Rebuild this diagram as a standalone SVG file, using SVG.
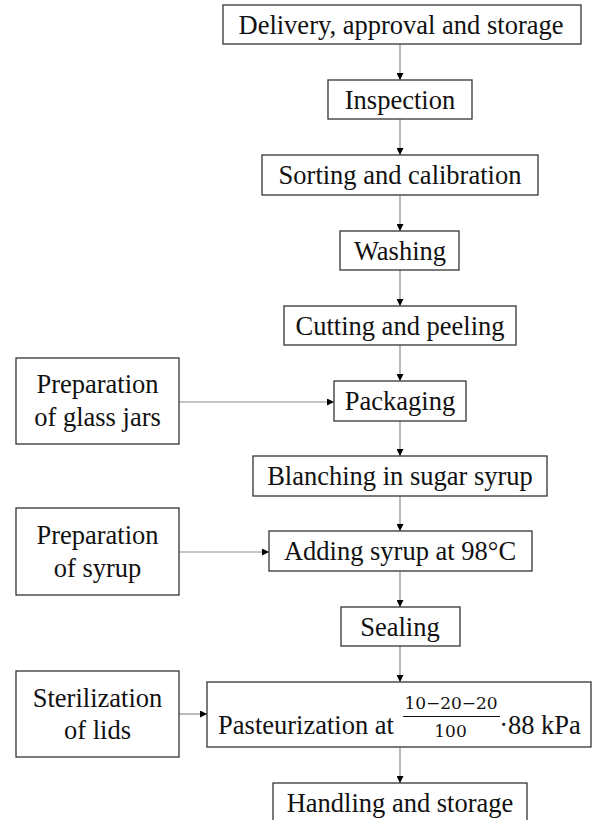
<svg xmlns="http://www.w3.org/2000/svg" width="592" height="820" viewBox="0 0 592 820">
<style>
.box{fill:#fff;stroke:#333;stroke-width:1.3}
.t{font-family:"Liberation Serif","Times New Roman",serif;font-size:26.5px;fill:#111;text-anchor:middle}
.m{font-family:"DejaVu Serif","Liberation Serif",serif;font-size:17px;fill:#111;text-anchor:middle}
.c{stroke:#8c8c8c;stroke-width:1.2;fill:none;marker-end:url(#ah)}
</style>
<defs>
<marker id="ah" markerUnits="userSpaceOnUse" markerWidth="7" markerHeight="7" refX="7" refY="3.5" orient="auto">
<path d="M0,0 L7,3.5 L0,7 z" fill="#000"/>
</marker>
</defs>
<rect width="592" height="820" fill="#fff"/>
<g id="connectors">
<line class="c" x1="400" y1="44" x2="400" y2="80"/>
<line class="c" x1="400" y1="119" x2="400" y2="155"/>
<line class="c" x1="400" y1="195" x2="400" y2="231"/>
<line class="c" x1="400" y1="270" x2="400" y2="306"/>
<line class="c" x1="400" y1="345" x2="400" y2="381"/>
<line class="c" x1="400" y1="421" x2="400" y2="456"/>
<line class="c" x1="400" y1="496" x2="400" y2="531"/>
<line class="c" x1="400" y1="571" x2="400" y2="607"/>
<line class="c" x1="400" y1="646" x2="400" y2="682"/>
<line class="c" x1="400" y1="747" x2="400" y2="783"/>
<line class="c" x1="179" y1="402" x2="334" y2="402"/>
<line class="c" x1="179" y1="552" x2="269" y2="552"/>
<line class="c" x1="179" y1="714" x2="207" y2="714"/>
</g>
<g id="n1"><rect class="box" x="223" y="5" width="358" height="39"/><text class="t" x="401" y="34">Delivery, approval and storage</text></g>
<g id="n2"><rect class="box" x="328" y="80" width="144" height="39"/><text class="t" x="400" y="109">Inspection</text></g>
<g id="n3"><rect class="box" x="262" y="155" width="276" height="40"/><text class="t" x="400" y="184">Sorting and calibration</text></g>
<g id="n4"><rect class="box" x="340" y="231" width="119" height="39"/><text class="t" x="400" y="260">Washing</text></g>
<g id="n5"><rect class="box" x="284" y="306" width="232" height="39"/><text class="t" x="400" y="335">Cutting and peeling</text></g>
<g id="n6"><rect class="box" x="334" y="381" width="132" height="40"/><text class="t" x="400" y="410">Packaging</text></g>
<g id="n7"><rect class="box" x="253" y="456" width="294" height="40"/><text class="t" x="400" y="485">Blanching in sugar syrup</text></g>
<g id="n8"><rect class="box" x="269" y="531" width="263" height="40"/><text class="t" x="400" y="560">Adding syrup at 98°C</text></g>
<g id="n9"><rect class="box" x="341" y="607" width="119" height="39"/><text class="t" x="400" y="636">Sealing</text></g>
<g id="n10"><rect class="box" x="207" y="682" width="384" height="65"/>
<text class="t" x="306" y="734">Pasteurization at</text>
<text class="m" x="451" y="709" textLength="93" lengthAdjust="spacing">10−20−20</text>
<line x1="403" y1="716.5" x2="500" y2="716.5" stroke="#111" stroke-width="1.2"/>
<text class="m" x="450.5" y="737">100</text>
<text class="t" x="540" y="734">·88 kPa</text>
</g>
<g id="n11"><rect class="box" x="273" y="783" width="254" height="40"/><text class="t" x="400" y="812">Handling and storage</text></g>
<g id="s1"><rect class="box" x="16" y="358" width="163" height="86"/><text class="t" x="97.5" y="393">Preparation</text><text class="t" x="97.5" y="426">of glass jars</text></g>
<g id="s2"><rect class="box" x="16" y="508" width="163" height="87"/><text class="t" x="97.5" y="544">Preparation</text><text class="t" x="97.5" y="577">of syrup</text></g>
<g id="s3"><rect class="box" x="16" y="671" width="163" height="86"/><text class="t" x="97.5" y="707">Sterilization</text><text class="t" x="97.5" y="739">of lids</text></g>
</svg>
